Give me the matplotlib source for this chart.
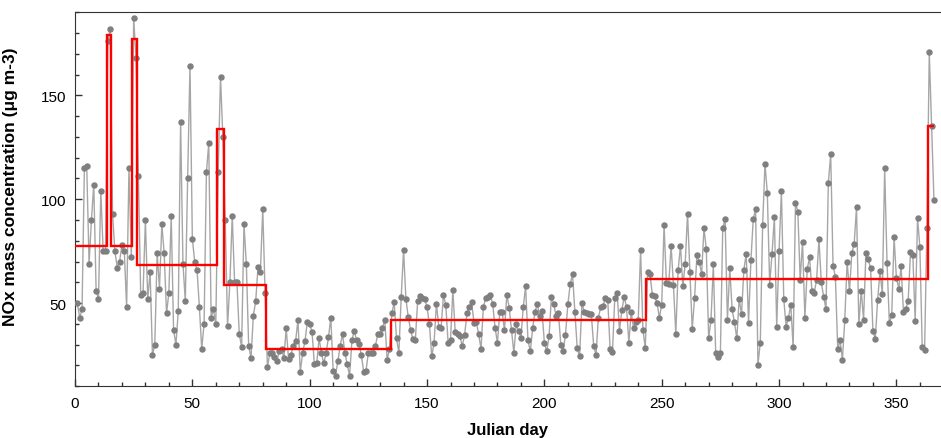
import numpy as np
import matplotlib
matplotlib.use('Agg')
import matplotlib.pyplot as plt
from matplotlib.ticker import MultipleLocator

# daily NOx (ug m-3), split into the regime blocks
nox_d001_013 = [50, 43, 47, 115, 116, 69, 90, 107, 56, 52, 104, 75, 75]
nox_d014_015 = [176, 182]
nox_d016_024 = [93, 75, 67, 70, 78, 75, 48, 115, 72]
nox_d025_026 = [187, 168]
nox_d027_060 = [111, 54, 55, 90, 52, 65, 25, 30, 74, 57, 88, 74, 45, 55, 92, 37, 30,
                46, 137, 69, 51, 110, 164, 81, 70, 66, 48, 28, 40, 113, 127, 43, 47, 40]
nox_d061_063 = [113, 159, 130]
nox_d064_081 = [90, 39, 60, 92, 60, 60, 35, 29, 88, 69, 29.5, 23.5, 44, 51, 67.6, 65,
                95.4, 55]
nox_d082_121 = [19, 26, 26, 24, 22, 27, 28, 23.5, 37.8, 23, 25, 29.5, 31.7, 42, 17, 26,
                31.7, 41, 40, 36, 20.5, 21, 33, 26, 21, 26, 33.5, 43, 17.5, 15, 22, 29.5,
                35, 26, 20.5, 15, 32, 36.7, 32, 30.5]
nox_d122_134 = [25, 17, 17.5, 26, 26, 26, 29.4, 35, 35, 38, 42, 22.4, 28]
nox_d135_184 = [45, 50.3, 33, 26, 53, 75.4, 52, 43.3, 37, 32.5, 32, 51, 53.3, 52.5, 52,
                48, 40, 24.3, 31, 49.7, 38.6, 38, 54, 49, 30.6, 32, 56.5, 36, 35, 34,
                29.4, 34.5, 45, 48, 50.5, 40.5, 41, 35, 28, 48, 52.5, 53, 54, 49.4, 38,
                31, 45.5, 45.7, 37, 54]
nox_d185_243 = [47.8, 37, 26, 40, 36.7, 33.3, 48, 58, 32.4, 26.7, 37.8, 45.9, 49.4, 43.6,
                46, 31, 26.7, 34, 53, 49.7, 43.6, 45, 30, 27, 34.8, 49.4, 59, 64, 45.7,
                28.3, 24.3, 50, 45.7, 45, 44.6, 44.6, 29.5, 25, 43, 48, 48.7, 52.5, 51.7,
                28, 26.4, 52.5, 55, 36.7, 46.5, 53, 48, 31, 45.5, 38, 41, 42, 75.4, 37,
                28.3]
nox_d244_300 = [64.8, 64, 54, 53.3, 50.2, 43, 49.3, 87.5, 59.7, 59.3, 77.5, 58.6, 35, 66,
                77.5, 58, 69, 93, 64.9, 37.5, 52.5, 73, 69.8, 64, 86, 76, 33, 42, 68.6,
                26, 24, 26, 86, 90.5, 42, 66.7, 47, 40.7, 33, 52, 44.6, 66, 73.7, 40.5,
                70.5, 90.4, 95.4, 20.3, 31, 87.6, 117, 103, 58.9, 73.7, 91.3, 38.6, 75]
nox_d301_366 = [104, 52, 38.6, 43, 49, 28.7, 98.4, 94, 61.3, 79.5, 43, 66.4, 72, 56, 55,
                61.3, 80.6, 60, 53, 47, 108, 121.6, 68, 62.5, 27.8, 32, 22.7, 42, 70,
                55.6, 74, 78.6, 96, 39.7, 56, 42, 74, 71, 66.8, 36.5, 32.6, 51.6, 65.2,
                54.4, 114.8, 69.5, 40.2, 44.1, 81.7, 62.2, 57, 67.7, 45.8, 47, 51, 74.5,
                73, 41.5, 91, 77, 28.7, 27.2, 86, 170.6, 135.4, 99.4]

# change points (Julian day) and regime means of the red step line
change_days = [0, 13.5, 15.5, 24.5, 26.5, 60.5, 63.5, 81.5, 134.5, 243.5, 363.5, 366]
regime_means = [77.5, 179, 77.5, 177, 68.5, 134, 58.5, 28, 42, 61.5, 135]

nox = np.concatenate([nox_d001_013, nox_d014_015, nox_d016_024, nox_d025_026,
                      nox_d027_060, nox_d061_063, nox_d064_081, nox_d082_121,
                      nox_d122_134, nox_d135_184, nox_d185_243, nox_d244_300,
                      nox_d301_366])
days = np.arange(1, len(nox) + 1)

plt.rcParams['font.family'] = ['Liberation Sans Narrow', 'Liberation Sans', 'DejaVu Sans']

fig = plt.figure(figsize=(9.41, 4.39), dpi=100)
ax = fig.add_axes([0.0797, 0.118, 0.9203, 0.852])

ax.plot(days, nox, color='#a6a6a6', lw=1.0, zorder=2)
ax.plot(days, nox, ls='none', marker='o', ms=3.6, mfc='#7f7f7f', mec='#7f7f7f', zorder=3)
ax.stairs(regime_means, change_days, baseline=None, color='#ff0000', lw=1.7, zorder=4)

ax.set_xlim(0, 369)
ax.set_ylim(10, 190)
ax.xaxis.set_major_locator(MultipleLocator(50))
ax.xaxis.set_minor_locator(MultipleLocator(10))
ax.yaxis.set_major_locator(MultipleLocator(50))
ax.yaxis.set_minor_locator(MultipleLocator(10))
ax.tick_params(which='both', direction='in', labelsize=11, width=1, color='#333333')
ax.tick_params(which='major', length=5)
ax.tick_params(which='minor', length=3)
ax.tick_params(axis='x', which='both', top=False, pad=7)
ax.tick_params(axis='y', which='both', right=False, pad=6)
for s in ax.spines.values():
    s.set_color('#333333')
ax.spines['right'].set_visible(False)

ax.set_xlabel('Julian day', fontsize=12, fontweight='bold', labelpad=9,
              family=['Liberation Sans', 'DejaVu Sans'])
ax.set_ylabel('NOx mass concentration (\u03bcg m-3)', fontsize=12.5, fontweight='bold',
              labelpad=9, family=['Liberation Sans', 'DejaVu Sans'])
ax.yaxis.set_label_coords(-0.066, 0.535)

fig.savefig('out.png', dpi=100)
